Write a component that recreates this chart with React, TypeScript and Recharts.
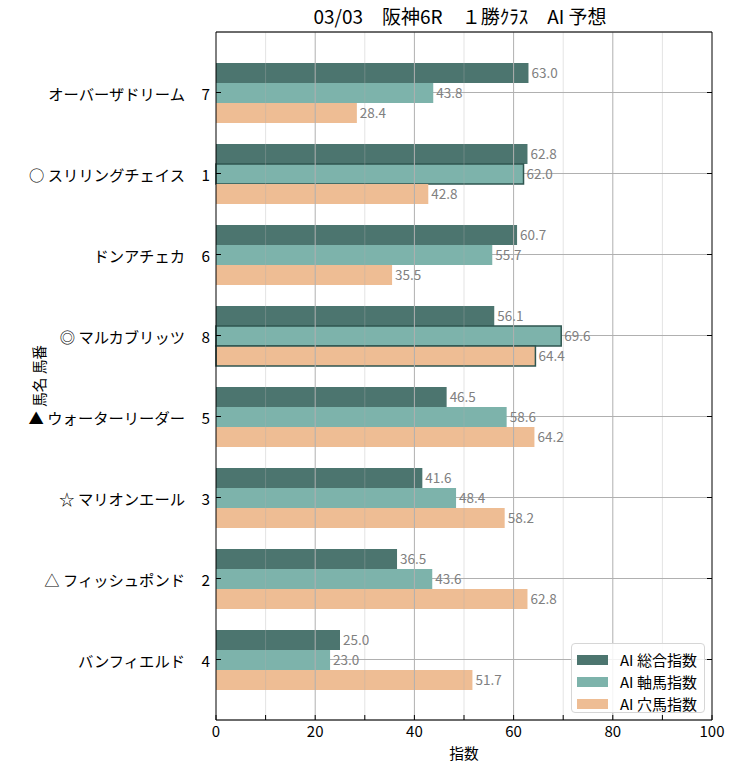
import { BarChart, Bar, XAxis, YAxis, CartesianGrid, ReferenceLine, LabelList, Cell } from "recharts"

const HORSES = [
  "オーバーザドリーム", "○ スリリングチェイス", "ドンアチェカ", "◎ マルカブリッツ",
  "▲ ウォーターリーダー", "☆ マリオンエール", "△ フィッシュポンド", "バンフィエルド",
]
const UMABAN = [7, 1, 6, 8, 5, 3, 2, 4]
const SOGO = [63.0, 62.8, 60.7, 56.1, 46.5, 41.6, 36.5, 25.0]
const JIKU = [43.8, 62.0, 55.7, 69.6, 58.6, 48.4, 43.6, 23.0]
const ANA = [28.4, 42.8, 35.5, 64.4, 64.2, 58.2, 62.8, 51.7]
// bars drawn with a dark outline in the original
const JIKU_MARK = [false, true, false, true, false, false, false, false]
const ANA_MARK = [false, false, false, true, false, false, false, false]

const X_TICKS = [0, 10, 20, 30, 40, 50, 60, 70, 80, 90, 100]
const MAJOR = [20, 40, 60, 80]
const MINOR = [10, 30, 50, 70, 90]

const SERIES = [
  { key: "sogo", label: "AI 総合指数", color: "#4c756f", mark: null as boolean[] | null },
  { key: "jiku", label: "AI 軸馬指数", color: "#7db3ab", mark: JIKU_MARK },
  { key: "ana",  label: "AI 穴馬指数", color: "#eebd94", mark: ANA_MARK },
]

const FONT = "'Noto Sans CJK JP', 'Noto Sans', sans-serif"
const OUTLINE = "#2f5650"

const data = HORSES.map((h, i) => ({
  name: h,
  num: UMABAN[i],
  sogo: SOGO[i],
  jiku: JIKU[i],
  ana: ANA[i],
}))

const BottomTick = ({ x, y, payload }: any) => (
  <g>
    <line x1={x} x2={x} y1={y} y2={y - 5} stroke="#000" />
    {payload.value % 20 === 0 && (
      <text x={x} y={y + 17} textAnchor="middle" fontSize={15} fill="#000">{payload.value}</text>
    )}
  </g>
)

const TopTick = ({ x, y }: any) => <line x1={x} x2={x} y1={y} y2={y + 5} stroke="#000" />

const LeftTick = ({ x, y, payload, index }: any) => (
  <g>
    <line x1={x} x2={x + 5} y1={y} y2={y} stroke="#000" />
    <text x={x - 31} y={y} textAnchor="end" dominantBaseline="central" fontSize={15.3} fill="#000">
      {payload.value}
    </text>
    <text x={x - 6} y={y} textAnchor="end" dominantBaseline="central" fontSize={15.3} fill="#000">
      {UMABAN[index]}
    </text>
  </g>
)

const RightTick = ({ x, y }: any) => <line x1={x} x2={x - 5} y1={y} y2={y} stroke="#000" />

const ValueLabel = ({ x, y, width, height, value }: any) => (
  <text x={x + width + 3} y={y + height / 2 - 1} dominantBaseline="central" fontSize={13.5} fill="#808080">
    {Number(value).toFixed(1)}
  </text>
)

export default function App() {
  return (
    <div style={{ position: "absolute", left: 0, top: 0, width: 736, height: 770, fontFamily: FONT }}>
      <div style={{
        position: "absolute", left: 212, width: 496, top: 2, textAlign: "center",
        fontSize: 19, color: "#000", whiteSpace: "pre",
      }}>
        03/03　阪神6R　１勝ｸﾗｽ　AI 予想
      </div>
      <BarChart
        width={736}
        height={770}
        data={data}
        layout="vertical"
        margin={{ top: 31, right: 23, bottom: 0, left: 16 }}
        barGap={0}
        style={{ fontFamily: FONT }}
      >
        <XAxis
          type="number" domain={[0, 100]} ticks={X_TICKS} interval={0}
          height={50} tickSize={0} tickMargin={0} tick={<BottomTick />}
          axisLine={{ stroke: "#000" }}
          label={{ value: "指数", position: "insideBottom", offset: 11, style: { fontSize: 14.7, fill: "#000" } }}
        />
        <XAxis
          xAxisId="top" orientation="top" type="number" domain={[0, 100]} ticks={X_TICKS} interval={0}
          height={1} tickSize={0} tickMargin={0} tick={<TopTick />} axisLine={{ stroke: "#000" }}
        />
        <YAxis
          type="category" dataKey="name" width={200} interval={0}
          padding={{ top: 20, bottom: 20 }} tickSize={0} tickMargin={0} tick={<LeftTick />}
          axisLine={{ stroke: "#000" }}
          label={{ value: "馬名 馬番", angle: -90, position: "insideLeft", offset: 24, style: { fontSize: 14.7, fill: "#000", textAnchor: "middle" } }}
        />
        <YAxis
          yAxisId="right" orientation="right" type="category" dataKey="name" width={1} interval={0}
          padding={{ top: 20, bottom: 20 }} tickSize={0} tickMargin={0} tick={<RightTick />}
          axisLine={{ stroke: "#000" }}
        />
        {SERIES.map(s => (
          <Bar key={s.key} dataKey={s.key} name={s.label} fill={s.color} barSize={20} isAnimationActive={false}>
            {data.map((_, i) => (
              <Cell
                key={i}
                fill={s.color}
                stroke={s.mark && s.mark[i] ? OUTLINE : "none"}
                strokeWidth={s.mark && s.mark[i] ? 1.5 : 0}
              />
            ))}
            <LabelList dataKey={s.key} content={<ValueLabel />} />
          </Bar>
        ))}
        <CartesianGrid vertical={false} stroke="#b0b0b0" strokeWidth={1} />
        {MINOR.map(v => (
          <ReferenceLine key={"m" + v} x={v} stroke="#b0b0b0" strokeOpacity={0.35} />
        ))}
        {MAJOR.map(v => (
          <ReferenceLine key={"M" + v} x={v} stroke="#b0b0b0" />
        ))}
      </BarChart>
      <div style={{
        position: "absolute", left: 571, top: 643, width: 134, height: 70,
        border: "1px solid #d6d6d6", borderRadius: 4, background: "rgba(255,255,255,0.85)",
        boxSizing: "border-box", padding: "5px 0 0 5px",
      }}>
        {SERIES.map(s => (
          <div key={s.key} style={{ display: "flex", alignItems: "center", height: 21, marginBottom: 1 }}>
            <span style={{ display: "inline-block", width: 31, height: 10, background: s.color }} />
            <span style={{ marginLeft: 12, fontSize: 15, color: "#000", lineHeight: 1 }}>{s.label}</span>
          </div>
        ))}
      </div>
    </div>
  )
}
